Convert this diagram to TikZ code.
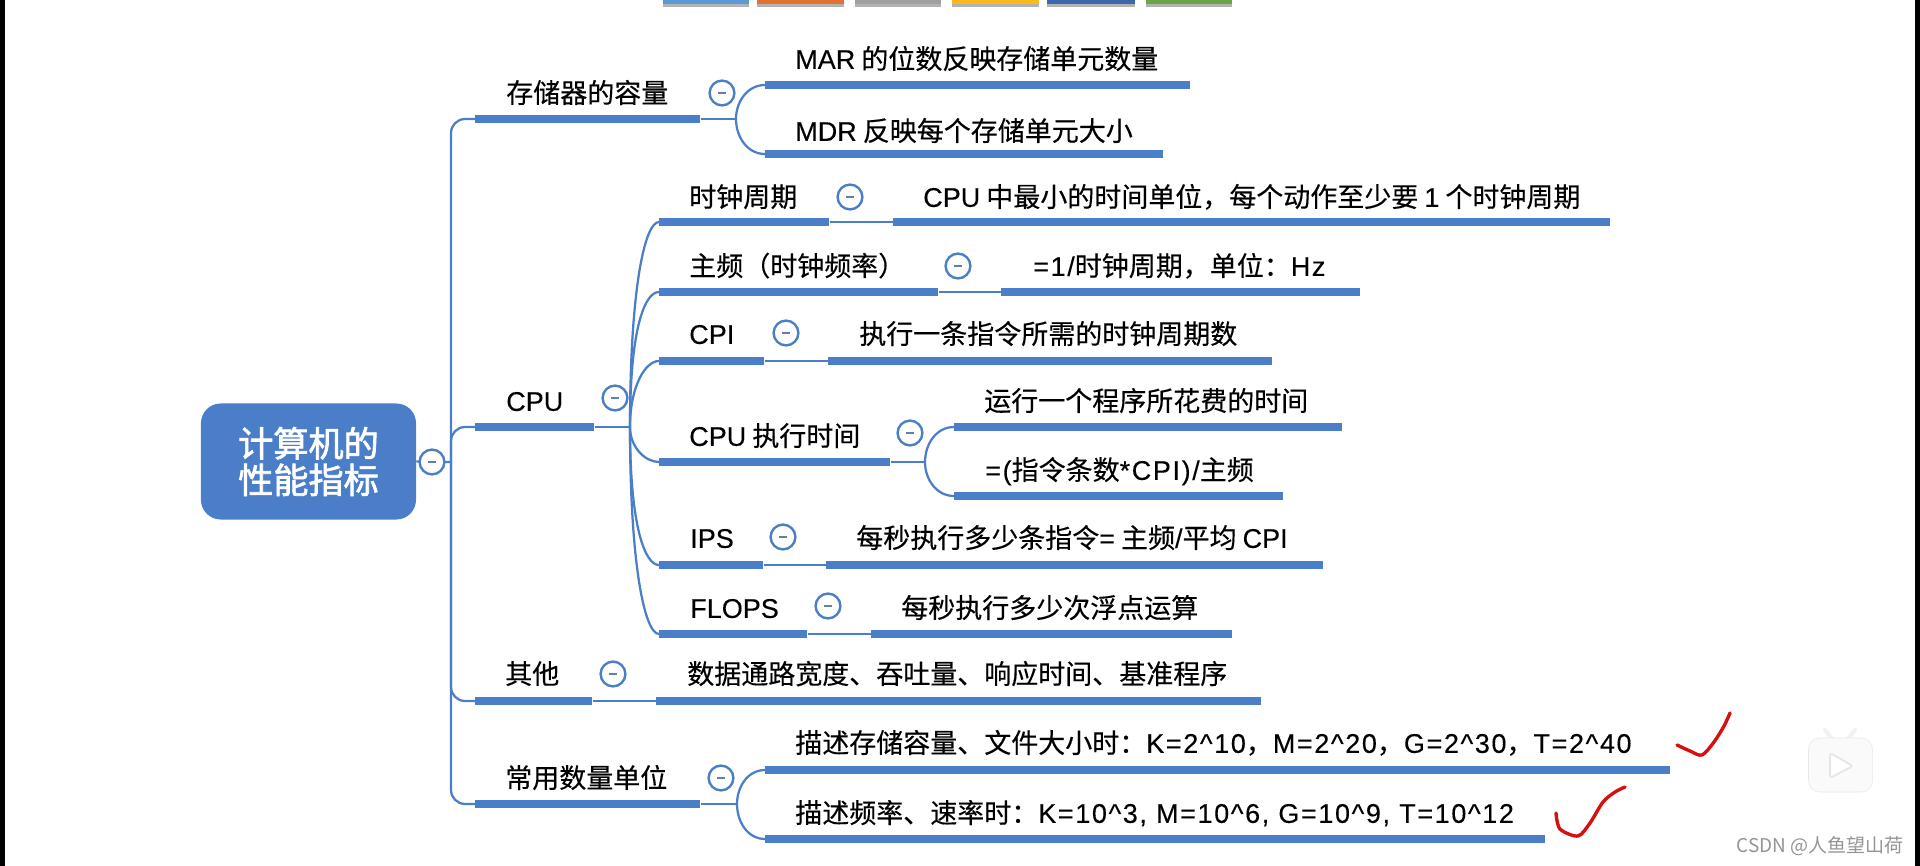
\documentclass[tikz,border=0pt]{standalone}
\usepackage{fontspec}
\setmainfont[FakeBold=0.3]{Noto Sans CJK SC}
\newfontfamily\rootfont[FakeBold=2]{Noto Sans CJK SC}
\newfontfamily\markfont{Noto Sans CJK SC}
\newfontfamily\lat[FakeBold=0.2]{Liberation Sans}
\newfontfamily\latx[FakeBold=0.2,LetterSpace=6]{Liberation Sans}
\usetikzlibrary{shadows}
\definecolor{mblue}{HTML}{4A7EC9}
\definecolor{mred}{HTML}{D5100F}
\definecolor{sblue}{HTML}{5B9BD5}
\definecolor{sorange}{HTML}{E2722F}
\definecolor{sgray}{HTML}{A0A0A0}
\definecolor{syellow}{HTML}{FBB81A}
\definecolor{sdark}{HTML}{3F65AC}
\definecolor{sgreen}{HTML}{6CA545}
\tikzset{
  bar/.style={fill=mblue,inner sep=0pt,minimum height=0.21cm,anchor=west,minimum width=#1*0.025cm},
  lab/.style={anchor=west,inner sep=0pt,text height=16pt,text depth=2pt,font=\fontsize{19.2}{23}\selectfont},
  fold/.style={circle,draw=mblue,line width=1.7pt,fill=white,inner sep=0pt,minimum size=0.62cm,
    path picture={\draw[line width=1.6pt,color=mblue!60!gray] (path picture bounding box.center) ++(-4,0) -- ++(8,0);}},
  link/.style={draw=mblue,line width=1.6pt},
  up/.style={out=90,in=180,out distance=#1,in distance=0.35cm},
  down/.style={out=270,in=180,out distance=#1,in distance=0.35cm},
  swatch/.style={inner sep=0pt,anchor=north,minimum height=0.1cm,minimum width=#1*0.025cm,
    drop shadow={shadow xshift=0pt,shadow yshift=-2pt,opacity=0.3,fill=black}},
  tick/.style={draw=mred,line width=2.4pt,line cap=round,line join=round}
}
\begin{document}
\begin{tikzpicture}[x=0.025cm,y=-0.025cm]
\useasboundingbox (0,0) rectangle (1920,866);
% edges of the screen
\fill[black] (0,0) rectangle (5,866);
\fill[black] (1915,0) rectangle (1920,866);
% toolbar
\node[swatch=86,fill=sblue] (s1) at (706,0) {};
\node[swatch=87,fill=sorange] (s2) at (800,0) {};
\node[swatch=86,fill=sgray] (s3) at (898,0) {};
\node[swatch=87,fill=syellow] (s4) at (995,0) {};
\node[swatch=88,fill=sdark] (s5) at (1091,0) {};
\node[swatch=86,fill=sgreen] (s6) at (1189,0) {};
% root
\node[fill=mblue,rounded corners=14pt,minimum width=5.375cm,minimum height=2.9cm,inner sep=0pt,
  align=center,text=white,font=\fontsize{25}{26}\rootfont] (root) at (308.5,461.5) {计算机的\\性能指标};
\coordinate (trunk) at (451,462);
\draw[link] (root.east) -- (trunk);
\node[fold] (rootfold) at (432,462) {};
% memory
\node[lab] (memt) at (506,93) {存储器的容量};
\node[bar=225] (mem) at (475,119) {};
\node[fold] (memfold) at (722,93) {};
\coordinate (memfork) at (736,119);
\node[lab] (mart) at (795,59) {{\lat MAR} 的位数反映存储单元数量};
\node[bar=425] (mar) at (765,85) {};
\node[lab] (mdrt) at (795,131) {{\lat MDR} 反映每个存储单元大小};
\node[bar=398] (mdr) at (765,154) {};
\draw[link] (mem.east) -- (memfork);
\draw[link] (memfork) to[out=90,in=180] (mar.west);
\draw[link] (memfork) to[out=270,in=180] (mdr.west);
% cpu
\node[lab] (cput) at (506,401) {{\lat CPU}};
\node[bar=119] (cpu) at (475,427) {};
\node[fold] (cpufold) at (615,398) {};
\coordinate (cpufork) at (630,427);
\draw[link] (cpu.east) -- (cpufork);
% clock period
\node[lab] (clkt) at (689,197) {时钟周期};
\node[bar=170] (clk) at (659,222) {};
\node[fold] (clkfold) at (850,197) {};
\node[lab] (clkat) at (923,197) {{\lat CPU} 中最小的时间单位，每个动作至少要 {\lat 1} 个时钟周期};
\node[bar=717] (clka) at (893,222) {};
\draw[link] (clk.east) -- (clka.west);
% frequency
\node[lab] (frqt) at (689,266) {主频（时钟频率）};
\node[bar=279] (frq) at (659,292) {};
\node[fold] (frqfold) at (958,266) {};
\node[lab] (frqat) at (1033,266) {{\latx =1/}时钟周期，单位：{\latx Hz}};
\node[bar=359] (frqa) at (1001,292) {};
\draw[link] (frq.east) -- (frqa.west);
% cpi
\node[lab] (cpit) at (689,334) {{\lat CPI}};
\node[bar=105] (cpi) at (659,361) {};
\node[fold] (cpifold) at (786,333) {};
\node[lab] (cpiat) at (859,334) {执行一条指令所需的时钟周期数};
\node[bar=444] (cpia) at (828,361) {};
\draw[link] (cpi.east) -- (cpia.west);
% execution time
\node[lab] (runt) at (689,436) {{\lat CPU} 执行时间};
\node[bar=231] (run) at (659,462) {};
\node[fold] (runfold) at (910,433) {};
\coordinate (runfork) at (925,462);
\node[lab] (runat) at (984,401) {运行一个程序所花费的时间};
\node[bar=388] (runa) at (954,427) {};
\node[lab] (runbt) at (985,470) {{\latx =(}指令条数{\latx *CPI)/}主频};
\node[bar=329] (runb) at (954,496) {};
\draw[link] (run.east) -- (runfork);
\draw[link] (runfork) to[out=90,in=180] (runa.west);
\draw[link] (runfork) to[out=270,in=180] (runb.west);
% ips
\node[lab] (ipst) at (690,538) {{\lat IPS}};
\node[bar=104] (ips) at (659,565) {};
\node[fold] (ipsfold) at (783,537) {};
\node[lab] (ipsat) at (856,538) {每秒执行多少条指令{\latx =} 主频{\lat /}平均 {\lat CPI}};
\node[bar=497] (ipsa) at (826,565) {};
\draw[link] (ips.east) -- (ipsa.west);
% flops
\node[lab] (flpt) at (690,608) {{\lat FLOPS}};
\node[bar=148] (flp) at (659,634) {};
\node[fold] (flpfold) at (828,606) {};
\node[lab] (flpat) at (901,608) {每秒执行多少次浮点运算};
\node[bar=361] (flpa) at (871,634) {};
\draw[link] (flp.east) -- (flpa.west);
% cpu branches
\draw[link] (cpufork) to[up=3.5cm] (clk.west);
\draw[link] (cpufork) to[up=2.5cm] (frq.west);
\draw[link] (cpufork) to[up=1cm] (cpi.west);
\draw[link] (cpufork) to[down=0.5cm] (run.west);
\draw[link] (cpufork) to[down=2.5cm] (ips.west);
\draw[link] (cpufork) to[down=3.5cm] (flp.west);
% other
\node[lab] (othert) at (505,674) {其他};
\node[bar=117] (other) at (475,701) {};
\node[fold] (otherfold) at (613,674) {};
\node[lab] (otherat) at (687,674) {数据通路宽度、吞吐量、响应时间、基准程序};
\node[bar=605] (othera) at (656,701) {};
\draw[link] (other.east) -- (othera.west);
% units
\node[lab] (unit) at (505,778) {常用数量单位};
\node[bar=225] (unitb) at (475,804) {};
\node[fold] (unitfold) at (721,778) {};
\coordinate (unitfork) at (737,804);
\node[lab] (sizet) at (795,743) {描述存储容量、文件大小时：{\latx K=2\^{}10}，{\latx M=2\^{}20}，{\latx G=2\^{}30}，{\latx T=2\^{}40}};
\node[bar=905] (size) at (765,770) {};
\node[lab] (ratet) at (795,813) {描述频率、速率时：{\latx K=10\^{}3, M=10\^{}6, G=10\^{}9, T=10\^{}12}};
\node[bar=780] (rate) at (765,839) {};
\draw[link] (unitb.east) -- (unitfork);
\draw[link] (unitfork) to[out=90,in=180] (size.west);
\draw[link] (unitfork) to[out=270,in=180] (rate.west);
% trunk
\draw[link,rounded corners=10pt] (trunk) |- (mem.west);
\draw[link,rounded corners=10pt] (trunk) |- (cpu.west);
\draw[link,rounded corners=10pt] (trunk) |- (other.west);
\draw[link,rounded corners=10pt] (trunk) |- (unitb.west);
% ticks
\draw[tick] plot[smooth] coordinates {(1677,745) (1690,751) (1702,755) (1714,742) (1724,726) (1730,713)};
\draw[tick] plot[smooth] coordinates {(1556,813) (1560,829) (1578,836) (1590,823) (1603,802) (1615,792) (1625,787)};
% player icon
\draw[line width=3pt,color=black!5,line cap=round] (1825,730) -- (1832,739);
\draw[line width=3pt,color=black!5,line cap=round] (1855,730) -- (1848,739);
\node[fill=black!2,draw=black!9,rounded corners=8pt,minimum width=1.6cm,minimum height=1.35cm,inner sep=0pt] (play) at (1840.5,765) {};
\draw[fill=white,draw=black!10,line width=1.2pt,rounded corners=2pt] (1830,753) -- (1853,766) -- (1830,778) -- cycle;
% watermark
\node[anchor=east,inner sep=0pt,text=black!42,font=\fontsize{13.5}{16}\markfont] (mark) at (1904,846) {CSDN @人鱼望山荷};
\end{tikzpicture}
\end{document}
